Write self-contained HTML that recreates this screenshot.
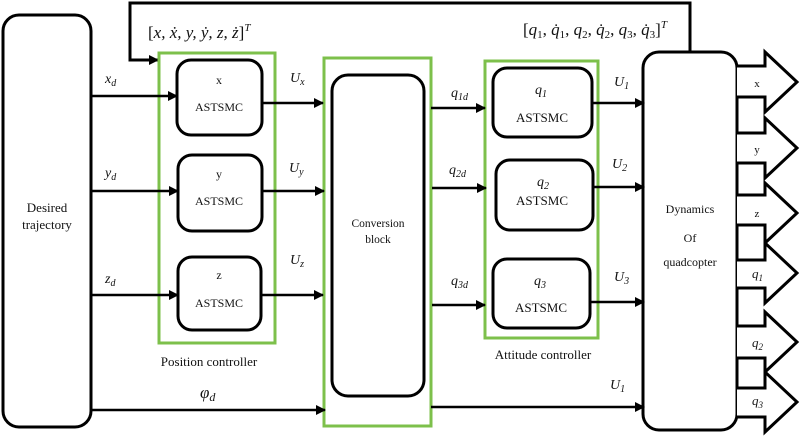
<!DOCTYPE html>
<html><head><meta charset="utf-8"><style>
html,body{margin:0;padding:0;background:#fff;}
svg{display:block;}
text{font-family:"Liberation Serif",serif;fill:#111;}
.m{font-style:italic;font-size:14px;}
</style></head><body>
<svg width="800" height="437" viewBox="0 0 800 437" xmlns="http://www.w3.org/2000/svg">
<defs>
<marker id="a" markerWidth="10" markerHeight="10" refX="9" refY="5" orient="auto" markerUnits="userSpaceOnUse">
<path d="M0,0 L10,5 L0,10 Z" fill="#000"/></marker>
</defs>
<g fill="none" stroke="#000" stroke-width="3">
<rect x="3" y="15" width="88" height="412" rx="16"/>
<rect x="177" y="60" width="85" height="75" rx="14"/>
<rect x="178" y="155" width="84" height="76" rx="14"/>
<rect x="178" y="257" width="83" height="73" rx="14"/>
<rect x="332" y="75" width="92" height="321" rx="16"/>
<rect x="493" y="68" width="99" height="69" rx="14"/>
<rect x="496" y="160" width="97" height="70" rx="14"/>
<rect x="493" y="259" width="97" height="69" rx="14"/>
<rect x="643" y="52" width="94" height="378" rx="16"/>
<path d="M690,52 V3 H130 V60 H158" marker-end="url(#a)" stroke-width="3"/>
</g>
<g fill="none" stroke="#7dc04b" stroke-width="3">
<rect x="159" y="53" width="116" height="290"/>
<rect x="324" y="58" width="107" height="368"/>
<rect x="485" y="61" width="113" height="277"/>
</g>
<g stroke="#000" stroke-width="2.5" fill="none">
<line x1="91" y1="96" x2="177" y2="96" marker-end="url(#a)"/>
<line x1="91" y1="191" x2="178" y2="191" marker-end="url(#a)"/>
<line x1="91" y1="295" x2="178" y2="295" marker-end="url(#a)"/>
<line x1="91" y1="410" x2="325" y2="410" marker-end="url(#a)"/>
<line x1="262" y1="103" x2="323" y2="103" marker-end="url(#a)"/>
<line x1="262" y1="191" x2="324" y2="191" marker-end="url(#a)"/>
<line x1="261" y1="295" x2="323" y2="295" marker-end="url(#a)"/>
<line x1="431" y1="108" x2="485" y2="108" marker-end="url(#a)"/>
<line x1="432" y1="188" x2="486" y2="188" marker-end="url(#a)"/>
<line x1="432" y1="305" x2="485" y2="305" marker-end="url(#a)"/>
<line x1="592" y1="103" x2="644" y2="103" marker-end="url(#a)"/>
<line x1="593" y1="187" x2="644" y2="187" marker-end="url(#a)"/>
<line x1="590" y1="302" x2="644" y2="302" marker-end="url(#a)"/>
<line x1="431" y1="407" x2="644" y2="407" marker-end="url(#a)"/>
</g>
<g fill="#fff" stroke="#000" stroke-width="3" stroke-linejoin="miter">
<path d="M737,66 H765 V52 L797,82 L765,112 V97 H737"/>
<path d="M737,133 H765 V118 L797,148 L765,178 V163 H737"/>
<path d="M737,195 H765 V183 L797,213 L765,243 V225 H737"/>
<path d="M737,260 H765 V243 L797,273 L765,303 V288 H737"/>
<path d="M737,326 H765 V312 L797,342 L765,372 V358 H737"/>
<path d="M737,388 H765 V372 L797,402 L765,432 V417 H737"/>
</g>
<g font-size="12" text-anchor="middle">
<text x="219" y="84">x</text><text x="219" y="111">ASTSMC</text>
<text x="219" y="178">y</text><text x="219" y="205">ASTSMC</text>
<text x="219" y="279">z</text><text x="219" y="307">ASTSMC</text>
<text x="542" y="205" font-size="13">ASTSMC</text>
<text x="542" y="122" font-size="13">ASTSMC</text>
<text x="541" y="312" font-size="13">ASTSMC</text>
<text x="209" y="366" font-size="13">Position controller</text>
<text x="543" y="359" font-size="13">Attitude controller</text>
<text x="378" y="227" font-size="11.5" font-family="Liberation Sans">Conversion</text>
<text x="378" y="243" font-size="11.5" font-family="Liberation Sans">block</text>
<text x="47" y="212" font-size="13" font-family="Liberation Sans">Desired</text>
<text x="47" y="229" font-size="13" font-family="Liberation Sans">trajectory</text>
<text x="690" y="213" font-size="12">Dynamics</text>
<text x="690" y="242" font-size="12">Of</text>
<text x="690" y="266" font-size="12">quadcopter</text>
<text x="757" y="87" font-size="11">x</text>
<text x="757" y="153" font-size="11">y</text>
<text x="757" y="217" font-size="11">z</text>
</g>
<g class="m">
<text x="148" y="38" font-size="17" font-style="normal">[<tspan font-style="italic">x, ẋ, y, ẏ, z, ż</tspan>]<tspan font-size="11" dy="-7" font-style="italic">T</tspan></text>
<text x="523" y="35" font-size="17" font-style="normal">[<tspan font-style="italic">q</tspan><tspan font-size="11" dy="3">1</tspan><tspan dy="-3">, </tspan><tspan font-style="italic">q̇</tspan><tspan font-size="11" dy="3">1</tspan><tspan dy="-3">, </tspan><tspan font-style="italic">q</tspan><tspan font-size="11" dy="3">2</tspan><tspan dy="-3">, </tspan><tspan font-style="italic">q̇</tspan><tspan font-size="11" dy="3">2</tspan><tspan dy="-3">, </tspan><tspan font-style="italic">q</tspan><tspan font-size="11" dy="3">3</tspan><tspan dy="-3">, </tspan><tspan font-style="italic">q̇</tspan><tspan font-size="11" dy="3">3</tspan><tspan dy="-3">]</tspan><tspan font-size="11" dy="-7" font-style="italic">T</tspan></text>
<text x="105" y="83">x<tspan font-size="10" dy="3">d</tspan></text>
<text x="105" y="177">y<tspan font-size="10" dy="3">d</tspan></text>
<text x="105" y="283">z<tspan font-size="10" dy="3">d</tspan></text>
<text x="200" y="398" font-size="17">φ<tspan font-size="12" dy="3">d</tspan></text>
<text x="290" y="82">U<tspan font-size="10" dy="3">x</tspan></text>
<text x="289" y="172">U<tspan font-size="10" dy="3">y</tspan></text>
<text x="290" y="264">U<tspan font-size="10" dy="3">z</tspan></text>
<text x="451" y="97">q<tspan font-size="10" dy="3">1d</tspan></text>
<text x="449" y="174">q<tspan font-size="10" dy="3">2d</tspan></text>
<text x="451" y="285">q<tspan font-size="10" dy="3">3d</tspan></text>
<text x="535" y="94">q<tspan font-size="10" dy="3">1</tspan></text>
<text x="537" y="186">q<tspan font-size="10" dy="3">2</tspan></text>
<text x="534" y="285">q<tspan font-size="10" dy="3">3</tspan></text>
<text x="614" y="86">U<tspan font-size="10" dy="3">1</tspan></text>
<text x="612" y="168">U<tspan font-size="10" dy="3">2</tspan></text>
<text x="614" y="281">U<tspan font-size="10" dy="3">3</tspan></text>
<text x="610" y="389">U<tspan font-size="10" dy="3">1</tspan></text>
<text x="752" y="278" font-size="13">q<tspan font-size="9" dy="3">1</tspan></text>
<text x="752" y="347" font-size="13">q<tspan font-size="9" dy="3">2</tspan></text>
<text x="752" y="405" font-size="13">q<tspan font-size="9" dy="3">3</tspan></text>
</g>
</svg>
</body></html>
